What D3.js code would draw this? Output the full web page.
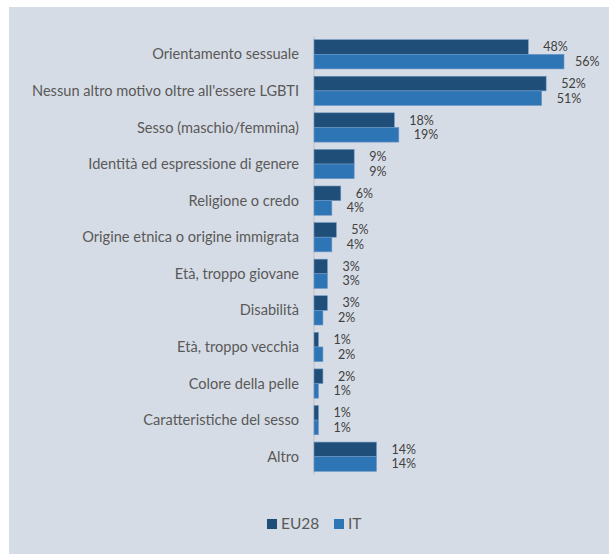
<!DOCTYPE html>
<html><head><meta charset="utf-8">
<script src="https://cdn.jsdelivr.net/npm/d3@7"></script>
<style>body{margin:0;background:#fff;}svg{display:block;}</style>
</head><body>
<script>
const categories = ["Orientamento sessuale","Nessun altro motivo oltre all'essere LGBTI","Sesso (maschio/femmina)","Identità ed espressione di genere","Religione o credo","Origine etnica o origine immigrata","Età, troppo giovane","Disabilità","Età, troppo vecchia","Colore della pelle","Caratteristiche del sesso","Altro"];
const eu28 = [48,52,18,9,6,5,3,3,1,2,1,14];
const it = [56,51,19,9,4,4,3,2,2,1,1,14];
const seriesNames = ["EU28","IT"];
const colors = ["#1f4e79","#2e75b6"];

const W=609,H=554;
const svg=d3.select("body").append("svg").attr("width",W).attr("height",H);
svg.append("rect").attr("x",9).attr("y",7).attr("width",W-9).attr("height",H-7).attr("fill","#d6dce5");

const x0=314;
const x=d3.scaleLinear().domain([0,56]).range([x0,564]);
const y=d3.scaleBand().domain(categories).range([36,475]).paddingInner(0.2).paddingOuter(0.1);
const sub=d3.scaleBand().domain(seriesNames).range([0,y.bandwidth()]);

// axis line
svg.append("line").attr("x1",x0).attr("x2",x0).attr("y1",36).attr("y2",475).attr("stroke","#bfbfbf").attr("stroke-width",1);

const series=[eu28,it];
series.forEach((vals,si)=>{
  const g=svg.append("g");
  g.selectAll("rect").data(vals).join("rect")
    .attr("x",x0).attr("y",(d,i)=>y(categories[i])+sub(seriesNames[si]))
    .attr("width",d=>x(d)-x0).attr("height",sub.bandwidth())
    .attr("fill",colors[si]).attr("stroke","#6f97c4").attr("stroke-width",0.6);
  g.selectAll("text").data(vals).join("text")
    .attr("x",d=>Math.min(x(d)+15,575))
    .attr("y",(d,i)=>y(categories[i])+sub(seriesNames[si])+sub.bandwidth()/2)
    .attr("dy","0.35em")
    .attr("font-family","Lato, 'Open Sans', sans-serif").attr("font-size",12.5)
    .attr("fill","#404040").text(d=>d+"%");
});

// category labels
svg.append("g").selectAll("text").data(categories).join("text")
  .attr("x",299).attr("y",d=>y(d)+y.bandwidth()/2).attr("dy","0.35em")
  .attr("text-anchor","end").attr("font-family","Lato, 'Open Sans', sans-serif")
  .attr("font-size",14.6).attr("fill","#595959").text(d=>d);

// legend
const lg=svg.append("g");
const lx=[267,334];
seriesNames.forEach((n,i)=>{
  lg.append("rect").attr("x",lx[i]).attr("y",519).attr("width",10).attr("height",10).attr("fill",colors[i]);
  lg.append("text").attr("x",lx[i]+14).attr("y",524).attr("dy","0.35em")
    .attr("font-family","Lato, 'Open Sans', sans-serif").attr("font-size",15.5).attr("fill","#595959").text(n);
});
</script>
</body></html>
